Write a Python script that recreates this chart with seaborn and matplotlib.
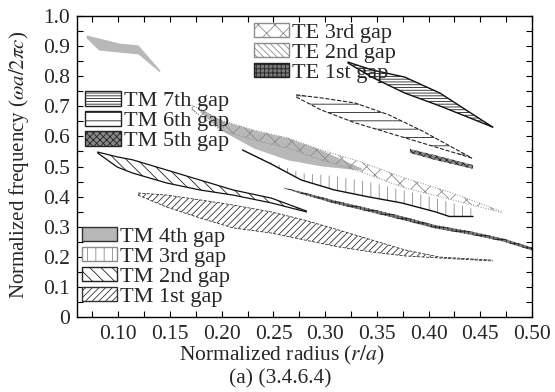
import matplotlib
matplotlib.use("Agg")
import matplotlib.pyplot as plt
from matplotlib.patches import Patch
from matplotlib.ticker import MultipleLocator, FuncFormatter
import seaborn as sns

sns.set_theme(style="ticks")
plt.rcParams["font.family"] = ["Liberation Serif", "DejaVu Serif"]
plt.rcParams["mathtext.fontset"] = "stix"
plt.rcParams["hatch.linewidth"] = 0.6

# -----------------------------------------------------------------------------
# Band gaps, (3.4.6.4) lattice : r/a -> lower / upper edge (omega a / 2 pi c)
# -----------------------------------------------------------------------------
tm1_r = [0.119, 0.147, 0.179, 0.211, 0.248, 0.280, 0.313, 0.345, 0.377, 0.411, 0.462]
tm1_hi = [0.412, 0.405, 0.389, 0.372, 0.349, 0.322, 0.289, 0.256, 0.223, 0.199, 0.189]
tm1_lo = [0.405, 0.365, 0.329, 0.296, 0.279, 0.256, 0.233, 0.216, 0.203, 0.196, 0.186]

tm2_r = [0.080, 0.099, 0.114, 0.147, 0.179, 0.211, 0.248, 0.282]
tm2_hi = [0.548, 0.532, 0.522, 0.488, 0.455, 0.422, 0.395, 0.352]
tm2_lo = [0.545, 0.498, 0.478, 0.445, 0.422, 0.405, 0.379, 0.349]

tm3_r = [0.220, 0.248, 0.277, 0.309, 0.342, 0.374, 0.407, 0.420, 0.443]
tm3_hi = [0.555, 0.515, 0.478, 0.468, 0.449, 0.422, 0.395, 0.382, 0.359]
tm3_lo = [0.555, 0.508, 0.455, 0.422, 0.399, 0.379, 0.349, 0.334, 0.334]

tm4a_r = [0.069, 0.081, 0.101, 0.119, 0.140]
tm4a_hi = [0.937, 0.927, 0.910, 0.904, 0.821]
tm4a_lo = [0.927, 0.887, 0.880, 0.874, 0.814]

tm4b_r = [0.179, 0.199, 0.231, 0.264, 0.296, 0.335]
tm4b_hi = [0.694, 0.654, 0.621, 0.595, 0.555, 0.495]
tm4b_lo = [0.681, 0.621, 0.561, 0.522, 0.502, 0.488]

tm5_r = [0.382, 0.406, 0.443]
tm5_hi = [0.558, 0.538, 0.505]
tm5_lo = [0.545, 0.522, 0.492]

tm6_r = [0.272, 0.296, 0.329, 0.362, 0.394, 0.442]
tm6_hi = [0.738, 0.728, 0.711, 0.671, 0.618, 0.528]
tm6_lo = [0.731, 0.688, 0.645, 0.611, 0.578, 0.528]

tm7_r = [0.322, 0.345, 0.377, 0.411, 0.438, 0.462]
tm7_hi = [0.847, 0.821, 0.797, 0.744, 0.684, 0.631]
tm7_lo = [0.844, 0.797, 0.744, 0.701, 0.664, 0.631]

te1_r = [0.260, 0.277, 0.309, 0.342, 0.374, 0.407, 0.440, 0.472, 0.503]
te1_hi = [0.430, 0.416, 0.387, 0.361, 0.335, 0.305, 0.285, 0.261, 0.228]
te1_lo = [0.428, 0.409, 0.377, 0.350, 0.323, 0.294, 0.274, 0.251, 0.218]

te3_r = [0.171, 0.199, 0.231, 0.264, 0.296, 0.335, 0.374, 0.423, 0.472]
te3_hi = [0.704, 0.654, 0.621, 0.595, 0.555, 0.515, 0.465, 0.412, 0.349]
te3_lo = [0.688, 0.621, 0.588, 0.561, 0.522, 0.482, 0.432, 0.389, 0.346]

te_labels = ["TE 3rd gap", "TE 2nd gap", "TE 1st gap"]
tm_hi_labels = ["TM 7th gap", "TM 6th gap", "TM 5th gap"]
tm_lo_labels = ["TM 4th gap", "TM 3rd gap", "TM 2nd gap", "TM 1st gap"]

# styles : (face, hatch, hatch colour)
STY = {
    "TE 3rd gap": ("none", "xx", "#8c8c8c"),
    "TE 2nd gap": ("none", "\\\\\\\\\\", "#8c8c8c"),
    "TE 1st gap": ("#777777", "++++", "#222222"),
    "TM 7th gap": ("none", "------", "#222222"),
    "TM 6th gap": ("none", "--", "#222222"),
    "TM 5th gap": ("#888888", "xxxxx", "#222222"),
    "TM 4th gap": ("#b8b8b8", None, "#b8b8b8"),
    "TM 3rd gap": ("none", "||", "#8c8c8c"),
    "TM 2nd gap": ("none", "\\\\\\", "#222222"),
    "TM 1st gap": ("none", "/////", "#333333"),
}

fig = plt.figure(figsize=(5.55, 3.92), dpi=100)
ax = fig.add_axes([0.1387, 0.1913, 0.8198, 0.7679])


def band(r, lo, hi, name, edge=None, lw=0.8, ls="-"):
    face, hatch, hc = STY[name]
    ax.fill_between(r, lo, hi, facecolor=face, edgecolor=hc, hatch=hatch, linewidth=0)
    if edge is not None:
        for y in (lo, hi):
            sns.lineplot(x=r, y=y, ax=ax, color=edge, lw=lw, linestyle=ls,
                         sort=False, estimator=None)


band(tm4a_r, tm4a_lo, tm4a_hi, "TM 4th gap")
band(tm4b_r, tm4b_lo, tm4b_hi, "TM 4th gap")
band(te3_r, te3_lo, te3_hi, "TE 3rd gap", edge="#8c8c8c", lw=0.7, ls=":")
band(tm1_r, tm1_lo, tm1_hi, "TM 1st gap", edge="#333333", lw=0.6, ls="--")
band(tm2_r, tm2_lo, tm2_hi, "TM 2nd gap", edge="#111111", lw=0.9)
band(tm3_r, tm3_lo, tm3_hi, "TM 3rd gap")
sns.lineplot(x=tm3_r, y=tm3_lo, ax=ax, color="#111111", lw=1.0, sort=False, estimator=None)
band(te1_r, te1_lo, te1_hi, "TE 1st gap")
band(tm5_r, tm5_lo, tm5_hi, "TM 5th gap")
band(tm6_r, tm6_lo, tm6_hi, "TM 6th gap", edge="#222222", lw=0.8, ls="--")
band(tm7_r, tm7_lo, tm7_hi, "TM 7th gap", edge="#111111", lw=1.0)

ax.set_xlim(0.06, 0.50)
ax.set_ylim(0, 1.0)
ax.xaxis.set_major_locator(MultipleLocator(0.05))
ax.xaxis.set_minor_locator(MultipleLocator(0.025))
ax.yaxis.set_major_locator(MultipleLocator(0.1))
ax.yaxis.set_minor_locator(MultipleLocator(0.05))
ax.xaxis.set_major_formatter(FuncFormatter(lambda v, p: f"{v:.2f}"))
ax.yaxis.set_major_formatter(FuncFormatter(lambda v, p: "0" if abs(v) < 1e-9 else f"{v:.1f}"))
ax.tick_params(which="both", direction="in", top=True, right=True, length=4,
               width=0.8, color="black", labelsize=15.5)
ax.tick_params(axis="x", pad=6)
ax.tick_params(axis="y", pad=5)
for s in ax.spines.values():
    s.set_color("black")
    s.set_linewidth(1.0)

ax.set_xlabel("Normalized radius ($r/a$)", fontsize=15.5)
ax.set_ylabel(r"Normalized frequency ($\omega a/2\pi c$)", fontsize=15)
ax.xaxis.set_label_coords(0.45, -0.088)
ax.yaxis.set_label_coords(-0.102, 0.505)
fig.text(0.505, 0.034, "(a) (3.4.6.4)", ha="center", va="center", fontsize=15.5)


def handles(names):
    out = []
    for n in names:
        face, hatch, hc = STY[n]
        ec = "#333333" if n == "TM 4th gap" else hc
        out.append(Patch(facecolor=face if face != "none" else "white",
                         edgecolor=ec, hatch=hatch, lw=1.0, label=n))
    return out


leg_kw = dict(frameon=False, fontsize=16, handlelength=1.6, handleheight=0.62,
              handletextpad=0.15, labelspacing=0.0, borderpad=0, borderaxespad=0,
              loc="upper left")
lg1 = ax.legend(handles=handles(te_labels), bbox_to_anchor=(0.388, 0.977), **leg_kw)
ax.add_artist(lg1)
lg2 = ax.legend(handles=handles(tm_hi_labels), bbox_to_anchor=(0.018, 0.75), **leg_kw)
ax.add_artist(lg2)
ax.legend(handles=handles(tm_lo_labels), bbox_to_anchor=(0.010, 0.30), **leg_kw)

fig.savefig("out.png", dpi=100)
